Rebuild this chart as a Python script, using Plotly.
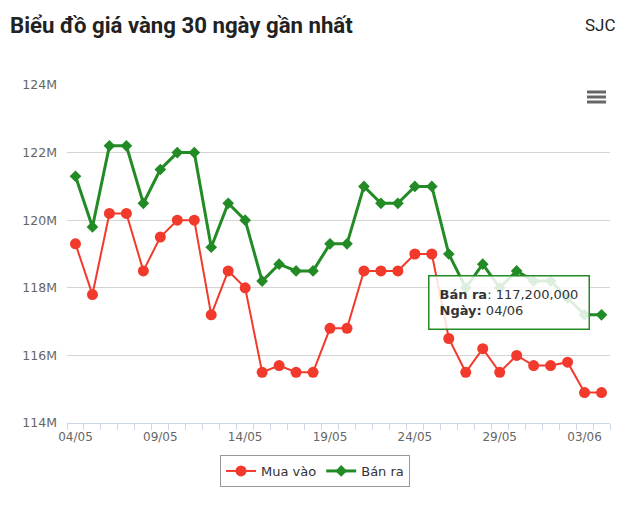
import plotly.graph_objects as go

dates = ["04/05", "05/05", "06/05", "07/05", "08/05", "09/05", "10/05", "11/05",
         "12/05", "13/05", "14/05", "15/05", "16/05", "17/05", "18/05", "19/05",
         "20/05", "21/05", "22/05", "23/05", "24/05", "25/05", "26/05", "27/05",
         "28/05", "29/05", "30/05", "31/05", "01/06", "02/06", "03/06", "04/06"]

mua_vao = [119.3, 117.8, 120.2, 120.2, 118.5, 119.5, 120.0, 120.0,
           117.2, 118.5, 118.0, 115.5, 115.7, 115.5, 115.5, 116.8,
           116.8, 118.5, 118.5, 118.5, 119.0, 119.0, 116.5, 115.5,
           116.2, 115.5, 116.0, 115.7, 115.7, 115.8, 114.9, 114.9]

ban_ra = [121.3, 119.8, 122.2, 122.2, 120.5, 121.5, 122.0, 122.0,
          119.2, 120.5, 120.0, 118.2, 118.7, 118.5, 118.5, 119.3,
          119.3, 121.0, 120.5, 120.5, 121.0, 121.0, 119.0, 118.0,
          118.7, 118.0, 118.5, 118.2, 118.2, 117.7, 117.2, 117.2]

y_ticks = [114, 116, 118, 120, 122, 124]
y_labels = [f"{v}M" for v in y_ticks]

RED = "#f13a2c"
GREEN = "#238b25"

fig = go.Figure()
fig.add_trace(go.Scatter(x=dates, y=mua_vao, name="Mua vào", mode="lines+markers",
                         line=dict(color=RED, width=2),
                         marker=dict(symbol="circle", size=11, color=RED)))
fig.add_trace(go.Scatter(x=dates, y=ban_ra, name="Bán ra", mode="lines+markers",
                         line=dict(color=GREEN, width=3),
                         marker=dict(symbol="diamond", size=9, color=GREEN)))

# page body has an 8px margin: layout measured in page pixels, shifted by OFF
OFF = 8
W, H = 640 - 2 * OFF, 510 - 2 * OFF
L, R, T, B = 67 - OFF, 610 - OFF, 85 - OFF, 423 - OFF

def px(x):
    return (x - OFF - L) / (R - L)

def py(y):
    return (B - (y - OFF)) / (B - T)

shapes = []
for yy in (92, 97, 102):
    shapes.append(dict(type="line", xref="paper", yref="paper",
                       x0=px(587), x1=px(606), y0=py(yy), y1=py(yy),
                       line=dict(color="#666666", width=3)))

tooltip = (f"<b>Bán ra</b>: {ban_ra[-1] * 1e6:,.0f}<br>"
           f"<b>Ngày:</b> {dates[-1]}")

fig.update_layout(
    width=W, height=H,
    margin=dict(l=L, r=W - R, t=T, b=H - B),
    paper_bgcolor="white", plot_bgcolor="white",
    font=dict(family="DejaVu Sans", color="#666666", size=12),
    title=dict(text="<b>Biểu đồ giá vàng 30 ngày gần nhất</b>",
               font=dict(family="Roboto", size=22.2, color="#222222"),
               xref="container", yref="container",
               x=(10 - OFF) / W, xanchor="left", y=1 - (25 - OFF) / H, yanchor="middle"),
    showlegend=True,
    legend=dict(orientation="h", xref="container", yref="container",
                x=(315 - OFF) / W, xanchor="center", y=1 - (471 - OFF) / H, yanchor="middle",
                bordercolor="#999999", borderwidth=1, bgcolor="white",
                font=dict(family="DejaVu Sans", size=13, color="#333333"),
                itemwidth=30),
    xaxis=dict(type="category", range=[-0.5, len(dates) - 0.5],
               showgrid=False, showline=True, linecolor="#ccd6eb", linewidth=1,
               ticks="outside", ticklen=6, tickcolor="#ccd6eb", tickson="boundaries",
               ticklabelstep=5, tickangle=0, ticklabelstandoff=3,
               tickfont=dict(size=12, color="#666666"),
               zeroline=False, automargin=False),
    yaxis=dict(range=[114, 124], tickvals=y_ticks, ticktext=y_labels,
               showgrid=True, gridcolor="#d4d4d4", gridwidth=1,
               showline=False, zeroline=False, ticks="", automargin=False,
               ticklabelstandoff=9, tickfont=dict(size=12.5, color="#666666")),
    shapes=shapes,
    annotations=[
        dict(text="SJC", xref="paper", yref="paper",
             x=px(618), xanchor="right", y=py(25), yanchor="middle",
             showarrow=False, font=dict(family="Roboto", size=17, color="#222222")),
        dict(text=tooltip, xref="paper", yref="paper",
             x=px(428), xanchor="left", y=py(275), yanchor="top",
             showarrow=False, align="left",
             bgcolor="rgba(255,255,255,0.85)", bordercolor=GREEN, borderwidth=1.5,
             borderpad=10, font=dict(family="DejaVu Sans", size=13, color="#333333")),
    ],
)

fig.write_html("out.html")
